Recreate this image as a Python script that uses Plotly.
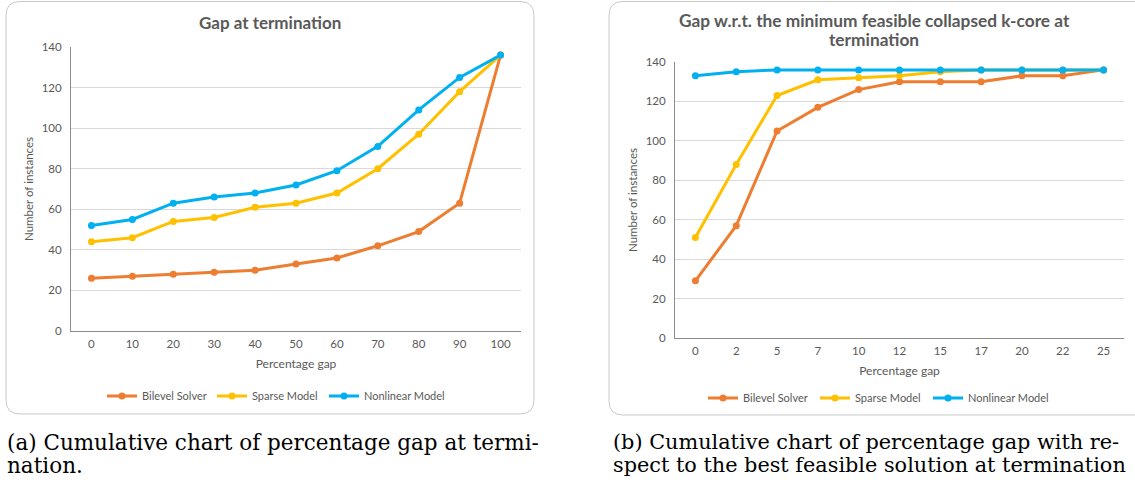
import plotly.graph_objects as go

W, H = 1135, 483

# ---------------- data ----------------
gap_a = ["0", "10", "20", "30", "40", "50", "60", "70", "80", "90", "100"]
bilevel_a = [26, 27, 28, 29, 30, 33, 36, 42, 49, 63, 136]
sparse_a = [44, 46, 54, 56, 61, 63, 68, 80, 97, 118, 136]
nonlinear_a = [52, 55, 63, 66, 68, 72, 79, 91, 109, 125, 136]

gap_b = ["0", "2", "5", "7", "10", "12", "15", "17", "20", "22", "25"]
bilevel_b = [29, 57, 105, 117, 126, 130, 130, 130, 133, 133, 136]
sparse_b = [51, 88, 123, 131, 132, 133, 135, 136, 136, 136, 136]
nonlinear_b = [133, 135, 136, 136, 136, 136, 136, 136, 136, 136, 136]

series_names = ["Bilevel Solver", "Sparse Model", "Nonlinear Model"]
series_colors = ["#ED7D31", "#FFC000", "#00B0F0"]

title_a = "Gap at termination"
title_b = ["Gap w.r.t. the minimum feasible collapsed k-core at", "termination"]
xtitle = "Percentage gap"
ytitle = "Number of instances"
caption_a = ["(a) Cumulative chart of percentage gap at termi-", "nation."]
caption_b = ["(b) Cumulative chart of percentage gap with re-",
             "spect to the best feasible solution at termination"]


def fx(p):
    return p / W


def fy(p):
    return 1 - p / H


SANS = "Lato"
GREY = "#595959"

fig = go.Figure()

legend_line_starts = {"x": [107, 217, 329], "x2": [708, 820, 933]}
legend_y = {"x": 396, "x2": 398}

li = 1
for xa, ya, cats, vals in [
    ("x", "y", gap_a, [bilevel_a, sparse_a, nonlinear_a]),
    ("x2", "y2", gap_b, [bilevel_b, sparse_b, nonlinear_b]),
]:
    for k, (name, col, v) in enumerate(zip(series_names, series_colors, vals)):
        lname = "legend" if li == 1 else f"legend{li}"
        fig.add_trace(go.Scatter(
            x=cats, y=v, name=name, mode="lines+markers",
            line=dict(color=col, width=3),
            marker=dict(color=col, size=7),
            xaxis=xa, yaxis=ya, legend=lname, showlegend=True,
        ))
        fig.layout[lname] = dict(
            x=fx(legend_line_starts[xa][k] - 5), xanchor="left",
            y=fy(legend_y[xa]), yanchor="middle",
            orientation="h", itemwidth=30,
            font=dict(family=SANS, size=11, color=GREY),
            bgcolor="rgba(0,0,0,0)", borderwidth=0,
        )
        li += 1

axis_common = dict(
    showline=True, linecolor="#8c8c8c", linewidth=1, automargin=False,
    ticks="", tickfont=dict(family=SANS, size=11.5, color=GREY),
    fixedrange=True,
)
xaxis_common = dict(showgrid=False, type="category", range=[-0.5, 10.5],
                    ticklabelstandoff=2, **axis_common)
yaxis_common = dict(
    range=[0, 140], dtick=20, showgrid=True, gridcolor="#d9d9d9", gridwidth=1,
    zeroline=False, ticklabelstandoff=6, **axis_common,
)

fig.update_layout(
    template="none",
    width=W, height=H,
    margin=dict(l=0, r=0, t=0, b=0, autoexpand=False),
    paper_bgcolor="white", plot_bgcolor="white",
    xaxis=dict(domain=[fx(71), fx(521)], anchor="y",
               title=dict(text=xtitle, font=dict(family=SANS, size=12, color=GREY), standoff=10),
               **xaxis_common),
    yaxis=dict(domain=[fy(331), fy(47)], anchor="x",
               title=dict(text=ytitle, font=dict(family=SANS, size=11.5, color=GREY), standoff=5),
               **yaxis_common),
    xaxis2=dict(domain=[fx(675), fx(1124)], anchor="y2",
                title=dict(text=xtitle, font=dict(family=SANS, size=12, color=GREY), standoff=10),
                **xaxis_common),
    yaxis2=dict(domain=[fy(338), fy(62)], anchor="x2",
                title=dict(text=ytitle, font=dict(family=SANS, size=11.5, color=GREY), standoff=5),
                **yaxis_common),
)


def rounded_box(x0, y0, x1, y1, r, open_right=False):
    X = lambda p: f"{fx(p):.5f}"
    Y = lambda p: f"{fy(p):.5f}"
    if open_right:
        return (f"M {X(x1)},{Y(y0)} L {X(x0 + r)},{Y(y0)} Q {X(x0)},{Y(y0)} {X(x0)},{Y(y0 + r)} "
                f"L {X(x0)},{Y(y1 - r)} Q {X(x0)},{Y(y1)} {X(x0 + r)},{Y(y1)} L {X(x1)},{Y(y1)}")
    return (f"M {X(x0 + r)},{Y(y0)} L {X(x1 - r)},{Y(y0)} Q {X(x1)},{Y(y0)} {X(x1)},{Y(y0 + r)} "
            f"L {X(x1)},{Y(y1 - r)} Q {X(x1)},{Y(y1)} {X(x1 - r)},{Y(y1)} "
            f"L {X(x0 + r)},{Y(y1)} Q {X(x0)},{Y(y1)} {X(x0)},{Y(y1 - r)} "
            f"L {X(x0)},{Y(y0 + r)} Q {X(x0)},{Y(y0)} {X(x0 + r)},{Y(y0)} Z")


fig.add_shape(type="path", xref="paper", yref="paper",
              path=rounded_box(6, 1.5, 534, 414, 14),
              line=dict(color="#c9c9c9", width=1), layer="below")
fig.add_shape(type="path", xref="paper", yref="paper",
              path=rounded_box(609, 1.5, 1150, 415, 14, open_right=True),
              line=dict(color="#c9c9c9", width=1), layer="below")

# chart titles
fig.add_annotation(text=f"<b>{title_a}</b>", x=fx(270), y=fy(22), xref="paper", yref="paper",
                   showarrow=False, xanchor="center", yanchor="middle",
                   font=dict(family=SANS, size=17, color=GREY))
for j, t in enumerate(title_b):
    fig.add_annotation(text=f"<b>{t}</b>", x=fx(874), y=fy(20 + j * 19.5), xref="paper", yref="paper",
                       showarrow=False, xanchor="center", yanchor="middle",
                       font=dict(family=SANS, size=17.3, color=GREY))

# captions
SERIF = "DejaVu Serif"
for lines, x0, fs in [(caption_a, 5, 21.5), (caption_b, 611, 20.8)]:
    for j, t in enumerate(lines):
        fig.add_annotation(text=t, x=fx(x0), y=fy(442 + j * 23), xref="paper", yref="paper",
                           showarrow=False, xanchor="left", yanchor="middle",
                           font=dict(family=SERIF, size=fs, color="black"))

fig.write_html("out.html", config={"displayModeBar": False},
               post_script="document.body.style.margin='0';document.body.style.overflow='hidden';")
